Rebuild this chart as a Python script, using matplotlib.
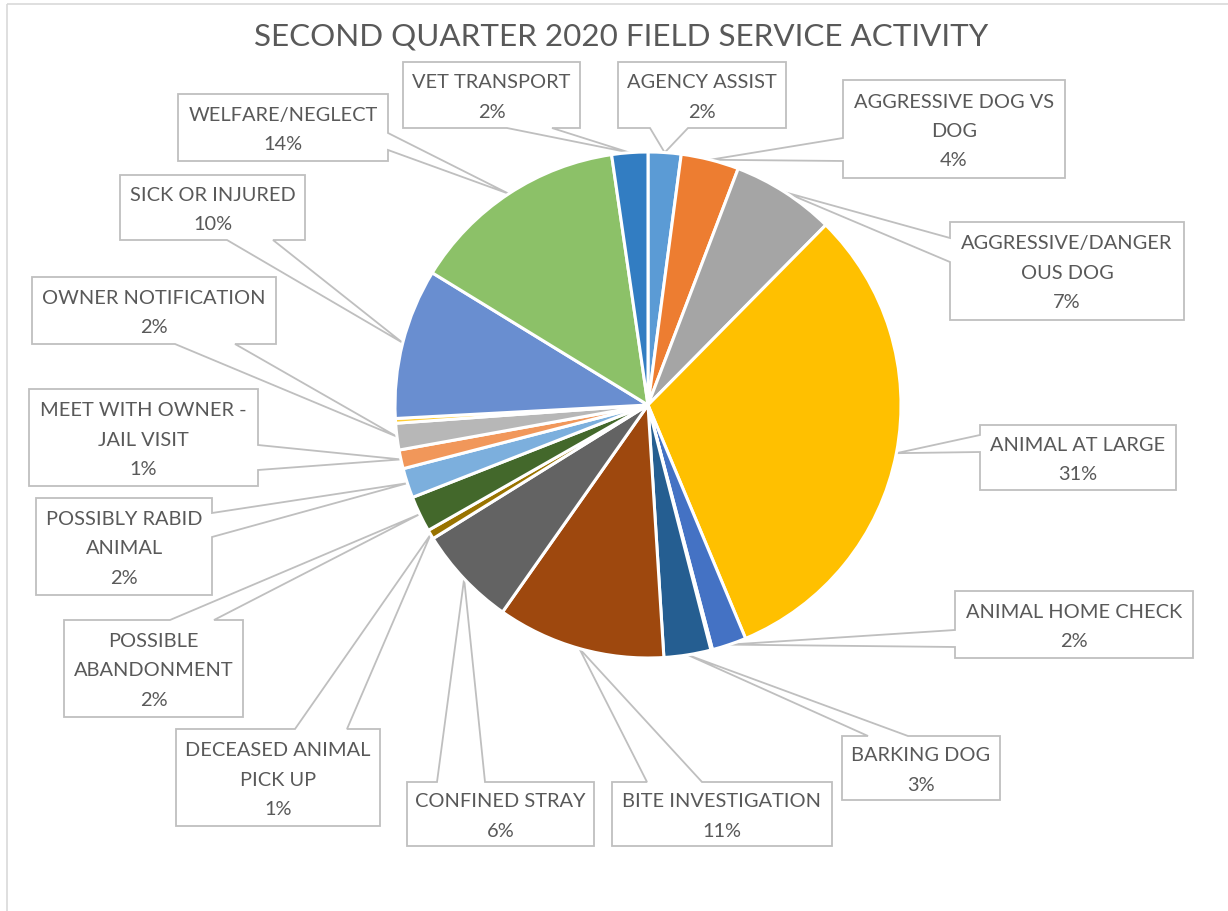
import numpy as np
import matplotlib
matplotlib.use("Agg")
import matplotlib.pyplot as plt
from matplotlib.patches import Polygon, Rectangle

plt.rcParams['font.family'] = ['Lato', 'DejaVu Sans']

# data, clockwise from 12 o'clock (share of calls, %); '' = unlabeled sliver
names = ['AGENCY ASSIST', 'AGGRESSIVE DOG VS\nDOG', 'AGGRESSIVE/DANGER\nOUS DOG',
         'ANIMAL AT LARGE', 'ANIMAL HOME CHECK', '', 'BARKING DOG',
         'BITE INVESTIGATION', 'CONFINED STRAY', 'DECEASED ANIMAL\nPICK UP',
         'POSSIBLE\nABANDONMENT', 'POSSIBLY RABID\nANIMAL', 'MEET WITH OWNER -\nJAIL VISIT',
         'OWNER NOTIFICATION', '', 'SICK OR INJURED', 'WELFARE/NEGLECT', 'VET TRANSPORT']
values = [2.1, 3.7, 6.6, 31.3, 2.2, 0.1, 3.0, 10.75, 6.4, 0.6,
          2.3, 1.9, 1.2, 1.7, 0.3, 9.6, 13.95, 2.3]
colors = ['#5B9BD5', '#ED7D31', '#A5A5A5', '#FFC000', '#4472C4', '#70AD47', '#255E91',
          '#9E480E', '#636363', '#997300', '#43682B', '#7CAFDD', '#F1975A',
          '#B7B7B7', '#FFCD33', '#698ED0', '#8CC168', '#327DC2']

# callout layout in pixels: box (left, top, right, bottom), side of the tail, tail base positions
callouts = {
    'AGENCY ASSIST': ((618, 62, 786, 128), 'bottom', (650, 688)),
    'AGGRESSIVE DOG VS\nDOG': ((843, 80, 1065, 178), 'left', (138, 161)),
    'AGGRESSIVE/DANGER\nOUS DOG': ((950, 222, 1184, 320), 'left', (238, 262)),
    'ANIMAL AT LARGE': ((980, 425, 1176, 490), 'left', (435, 452)),
    'ANIMAL HOME CHECK': ((955, 591, 1193, 658), 'left', (630, 647)),
    'BARKING DOG': ((842, 736, 1000, 800), 'top', (868, 908)),
    'BITE INVESTIGATION': ((612, 782, 832, 846), 'top', (647, 702)),
    'CONFINED STRAY': ((407, 782, 594, 846), 'top', (437, 485)),
    'DECEASED ANIMAL\nPICK UP': ((176, 729, 380, 826), 'top', (295, 347)),
    'POSSIBLE\nABANDONMENT': ((64, 620, 243, 717), 'top', (170, 214)),
    'POSSIBLY RABID\nANIMAL': ((36, 498, 212, 595), 'right', (513, 537)),
    'MEET WITH OWNER -\nJAIL VISIT': ((29, 389, 258, 486), 'right', (445, 470)),
    'OWNER NOTIFICATION': ((32, 277, 276, 344), 'bottom', (175, 235)),
    'SICK OR INJURED': ((120, 175, 305, 240), 'bottom', (227, 273)),
    'WELFARE/NEGLECT': ((178, 94, 388, 161), 'right', (133, 150)),
    'VET TRANSPORT': ((403, 62, 580, 128), 'bottom', (507, 552)),
}

W, H = 1228, 911
cx, cy, R = 648, 405, 253
text_color = '#595959'
line_color = '#BFBFBF'


def pct_text(v, total):
    return '%d%%' % int(np.floor(v / total * 100 + 0.5))


def callout_poly(box, side, base, tip):
    l, t, r, b = box
    a1, a2 = sorted(base)
    if side == 'top':
        pts = [(l, t), (a1, t), tip, (a2, t), (r, t), (r, b), (l, b)]
    elif side == 'right':
        pts = [(l, t), (r, t), (r, a1), tip, (r, a2), (r, b), (l, b)]
    elif side == 'bottom':
        pts = [(l, t), (r, t), (r, b), (a2, b), tip, (a1, b), (l, b)]
    else:
        pts = [(l, t), (r, t), (r, b), (l, b), (l, a2), tip, (l, a1)]
    return pts


fig = plt.figure(figsize=(W / 100, H / 100), dpi=100)
over = fig.add_axes([0, 0, 1, 1])
over.set_xlim(0, W)
over.set_ylim(H, 0)
over.axis('off')

over.add_patch(Rectangle((7, 4), W + 20, H + 20, fill=False, ec='#D9D9D9', lw=1.2))

ax = fig.add_axes([(cx - R) / W, 1 - (cy + R) / H, 2 * R / W, 2 * R / H])
wedges, _ = ax.pie(values, colors=colors, startangle=90, counterclock=False,
                   wedgeprops=dict(edgecolor='white', linewidth=2.2))
ax.set_xlim(-1, 1)
ax.set_ylim(-1, 1)
ax.axis('off')

total = sum(values)
to_over = over.transData.inverted()
for name, v, w in zip(names, values, wedges):
    if not name:
        continue
    box, side, base = callouts[name]
    th = np.deg2rad((w.theta1 + w.theta2) / 2)
    tip = to_over.transform(ax.transData.transform((np.cos(th), np.sin(th))))
    poly = Polygon(callout_poly(box, side, base, tuple(tip)), closed=True,
                   fc='white', ec=line_color, lw=1.3, zorder=2)
    over.add_patch(poly)
    lines = name.split('\n') + [pct_text(v, total)]
    l, t, r, b = box
    mid = (t + b) / 2 + 2.5
    for i, s in enumerate(lines):
        y = mid + (i - (len(lines) - 1) / 2) * 29.5
        over.text((l + r) / 2, y, s, ha='center', va='center', fontsize=14.4,
                  color=text_color, zorder=3)

over.text(621, 36, 'SECOND QUARTER 2020 FIELD SERVICE ACTIVITY', ha='center', va='center',
          fontsize=22.6, color=text_color)

fig.savefig('out.png', dpi=100)
